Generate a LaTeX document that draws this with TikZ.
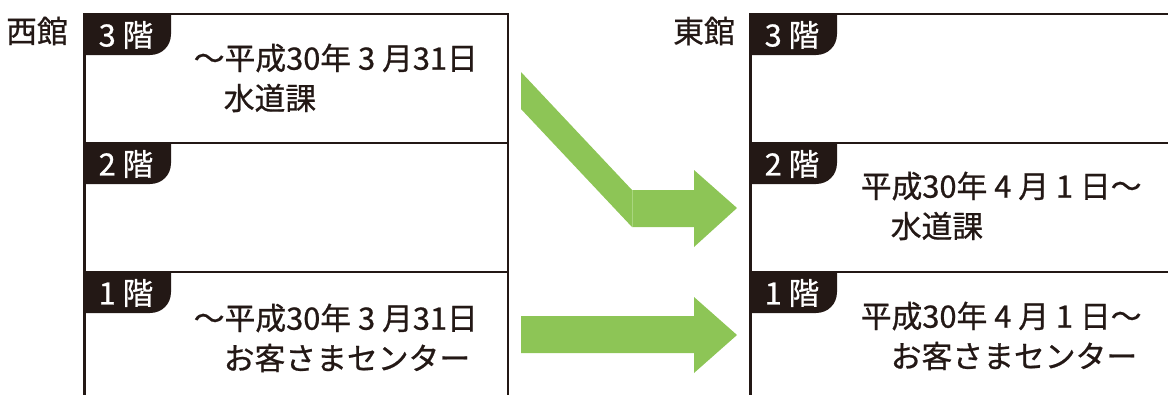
\documentclass[tikz,border=0pt]{standalone}
\usepackage{fontspec}
\setmainfont[FakeBold=0.7]{Noto Sans CJK JP}
\definecolor{ink}{HTML}{231815}
\definecolor{leaf}{HTML}{8DC556}
\definecolor{seam}{HTML}{A9D67F}
\tikzset{x=0.75pt,y=-0.75pt,
 frameline/.style={draw=ink,line width=2pt},
 divider/.style={draw=ink,line width=1.2pt},
 tabshape/.style={fill=ink},
 tablabel/.style={text=white,font=\fontsize{23}{24}\selectfont,inner sep=0pt,anchor=center},
 body/.style={text=ink,font=\fontsize{23.1}{24}\selectfont,inner sep=0pt,anchor=west},
 hall/.style={text=ink,font=\fontsize{23.1}{24}\selectfont,inner sep=0pt,anchor=center},
 arrowshape/.style={fill=leaf},
 seamline/.style={draw=seam,line width=0.4pt}}
\newcommand{\floortab}[3]{%
 \fill[tabshape] (#1,#2) -- (#1+87,#2) -- (#1+87,#2+20) .. controls (#1+87,#2+32) and (#1+78,#2+41) .. (#1+66,#2+41) -- (#1,#2+41) -- cycle;
 \node[tablabel] at (#1+42,#2+21) {#3};}
\begin{document}
\begin{tikzpicture}
\useasboundingbox (0,0) rectangle (1168,394);
\draw[frameline] (84.2,400) -- (84.2,14) -- (508,14) -- (508,400);
\draw[divider] (84,143) -- (508,143);
\draw[divider] (84,272) -- (508,272);
\draw[frameline] (1175,14) -- (750.2,14) -- (750.2,400);
\draw[divider] (750,143) -- (1175,143);
\draw[divider] (750,272) -- (1175,272);
\floortab{84}{14}{3 階}
\floortab{84}{143}{2 階}
\floortab{84}{272}{1 階}
\floortab{750}{14}{3 階}
\floortab{750}{143}{2 階}
\floortab{750}{272}{1 階}
\node[hall] (w) at (37,31) {西館};
\node[hall] (e) at (704,31) {東館};
\node[body] (a1) at (193.5,58) {～平成30年 3 月31日};
\node[body] (a2) at (223.5,98) {水道課};
\node[body] (a3) at (193.5,318) {～平成30年 3 月31日};
\node[body] (a4) at (223.5,358) {お客さまセンター};
\node[body] (b1) at (860.5,186) {平成30年 4 月 1 日～};
\node[body] (b2) at (890.5,226) {水道課};
\node[body] (b3) at (860.5,316) {平成30年 4 月 1 日～};
\node[body] (b4) at (890.5,356) {お客さまセンター};
\fill[arrowshape] (521,72) -- (632,190) -- (694,190) -- (694,170) -- (737,208) -- (694,247) -- (694,227) -- (632,227) -- (521,109) -- cycle;
\draw[seamline] (632,190) -- (632,227);
\fill[arrowshape] (521,316) -- (694,316) -- (694,297) -- (737,335) -- (694,373) -- (694,353) -- (521,353) -- cycle;
\end{tikzpicture}
\end{document}
